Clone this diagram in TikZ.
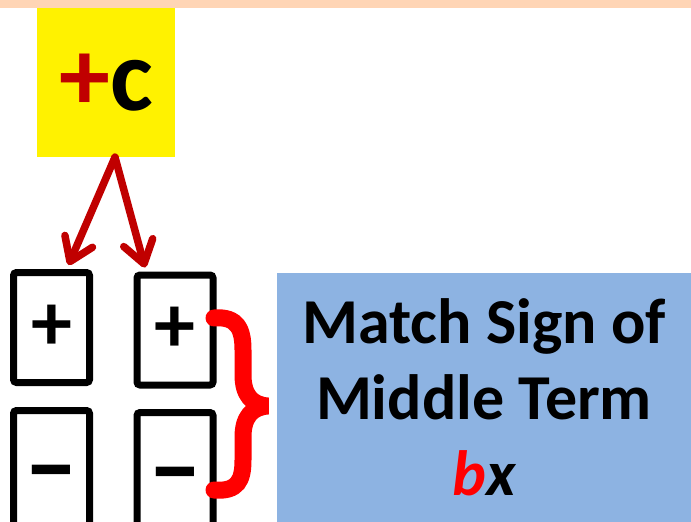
\documentclass[tikz,border=0pt]{standalone}
\usepackage{fontspec}
\setmainfont{Carlito}
\definecolor{peach}{RGB}{255,213,181}
\definecolor{darkred}{RGB}{192,0,0}
\definecolor{signblue}{RGB}{141,179,226}
\usetikzlibrary{arrows.meta,calc}

\begin{document}
\begin{tikzpicture}[x=1pt,y=-1pt,
  signbox/.style={draw=black, line width=7pt, rounded corners=3pt, minimum width=76pt, minimum height=110pt, inner sep=0pt, font=\fontsize{82}{82}\selectfont\bfseries},
  lowbox/.style={signbox, minimum height=120pt, text height=60pt, text depth=0pt, font=\fontsize{108}{108}\selectfont\bfseries},
  arrow/.style={-{Straight Barb[length=22pt,width=30pt,round]}, line width=7.5pt, darkred, line cap=round},
  brace/.style={red, line width=17pt, line cap=round}
]
  \useasboundingbox (0,0) rectangle (691,522);
  \fill[peach] (0,0) rectangle (691,8);
  \node[fill=yellow, minimum width=138pt, minimum height=149pt, inner sep=0pt, font=\fontsize{102}{102}\selectfont\bfseries] (cterm) at (106,82.5) {\textcolor{darkred}{+}c};
  \node[signbox] (pa) at (51.5,327.5) {+};
  \node[signbox] (pb) at (175,330) {+};
  \node[lowbox] (ma) at (51.5,470.5) {–};
  \node[lowbox] (mb) at (175,472.5) {–};
  \node[fill=signblue, minimum width=414pt, minimum height=249pt, inner sep=0pt, align=center, font=\fontsize{64}{76}\selectfont\bfseries] (rule) at (484,397.5) {Match Sign of\\Middle Term\\{\itshape\textcolor{red}{b}x}};
  \coordinate (fork) at ($(cterm.south)+(9,0)$);
  \draw[arrow] (fork) -- ($(pa.north)+(17,-4)$);
  \draw[arrow] (fork) -- ($(pb.north)+(-30,-4)$);
  % curly brace from the sign boxes to the rule
  \draw[brace] (214,318) .. controls (238,316) and (243,330) .. (243,350) -- (243,375)
    .. controls (243,395) and (252,405) .. (268,406)
    .. controls (252,407) and (243,417) .. (243,437) -- (243,460)
    .. controls (243,480) and (238,492) .. (214,490);
\end{tikzpicture}
\end{document}
